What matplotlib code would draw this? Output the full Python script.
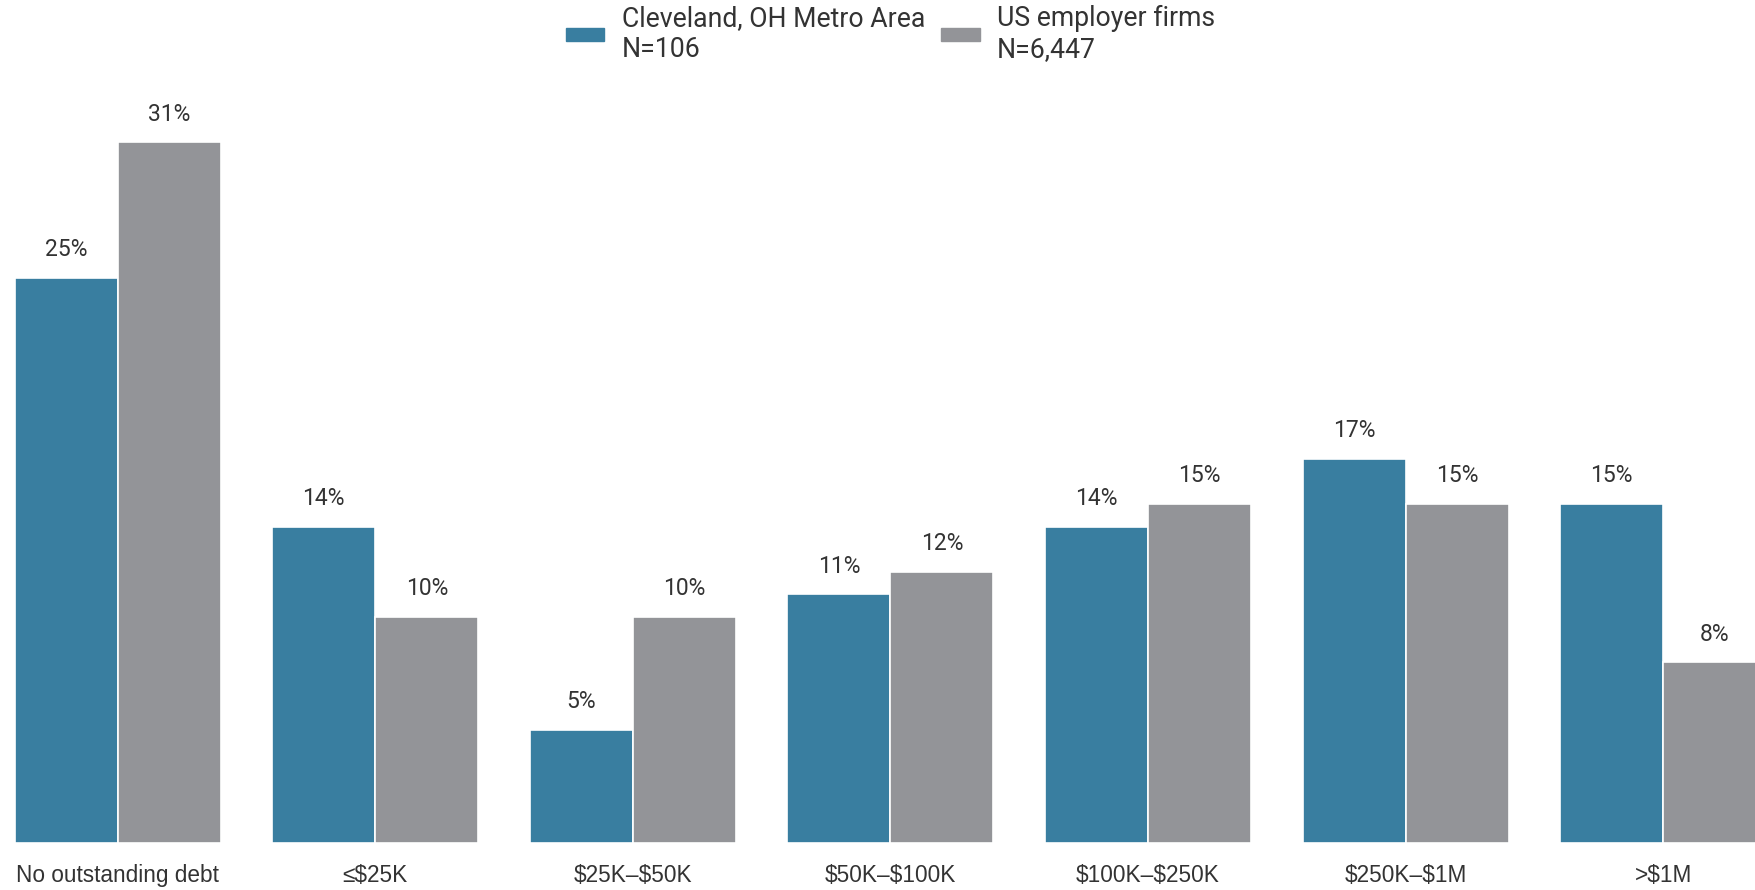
import numpy as np
import matplotlib.pyplot as plt
from matplotlib.patches import Patch

# Data
categories = ['No outstanding debt', '≤$25K', '$25K–$50K', '$50K–$100K',
              '$100K–$250K', '$250K–$1M', '>$1M']
cleveland = [25, 14, 5, 11, 14, 17, 15]
us_firms = [31, 10, 10, 12, 15, 15, 8]
series_names = ['Cleveland, OH Metro Area\nN=106', 'US employer firms\nN=6,447']
colors = ['#397ea0', '#939498']

plt.rcParams['font.family'] = ['Roboto', 'DejaVu Sans']
plt.rcParams['text.parse_math'] = False
text_color = '#333333'

fig = plt.figure(figsize=(17.56, 8.9), dpi=100)
ax = fig.add_axes([14.6 / 1756, 47 / 890, 1 - 14.6 / 1756, 1 - 47 / 890 - 52 / 890])

x = np.arange(len(categories))
w = 0.4
b1 = ax.bar(x - w / 2, cleveland, w, color=colors[0], edgecolor='white', linewidth=1.2)
b2 = ax.bar(x + w / 2, us_firms, w, color=colors[1], edgecolor='white', linewidth=1.2)

for bars, vals in [(b1, cleveland), (b2, us_firms)]:
    for bar, v in zip(bars, vals):
        ax.annotate(f'{v}%', (bar.get_x() + bar.get_width() / 2, v),
                    xytext=(0, 12), textcoords='offset points',
                    ha='center', va='bottom', fontsize=16.5, color=text_color)

ax.set_xlim(-0.4, 6.36)
ax.set_ylim(0, 35)
ax.set_xticks(x)
ax.set_xticklabels(categories, fontsize=16.3, color=text_color,
                   family=['Liberation Sans', 'DejaVu Sans'])
ax.tick_params(axis='x', length=0, pad=15)
ax.set_yticks([])
for s in ax.spines.values():
    s.set_visible(False)

handles = [Patch(color=colors[0]), Patch(color=colors[1])]
fig.legend(handles, series_names, loc='center', bbox_to_anchor=(0.507, 0.962),
           ncol=2, frameon=False, fontsize=19.2, handlelength=1.45, handleheight=0.35,
           handletextpad=0.65, columnspacing=0.6, labelcolor=text_color,
           labelspacing=0.1)

fig.savefig('out.png', dpi=100)
